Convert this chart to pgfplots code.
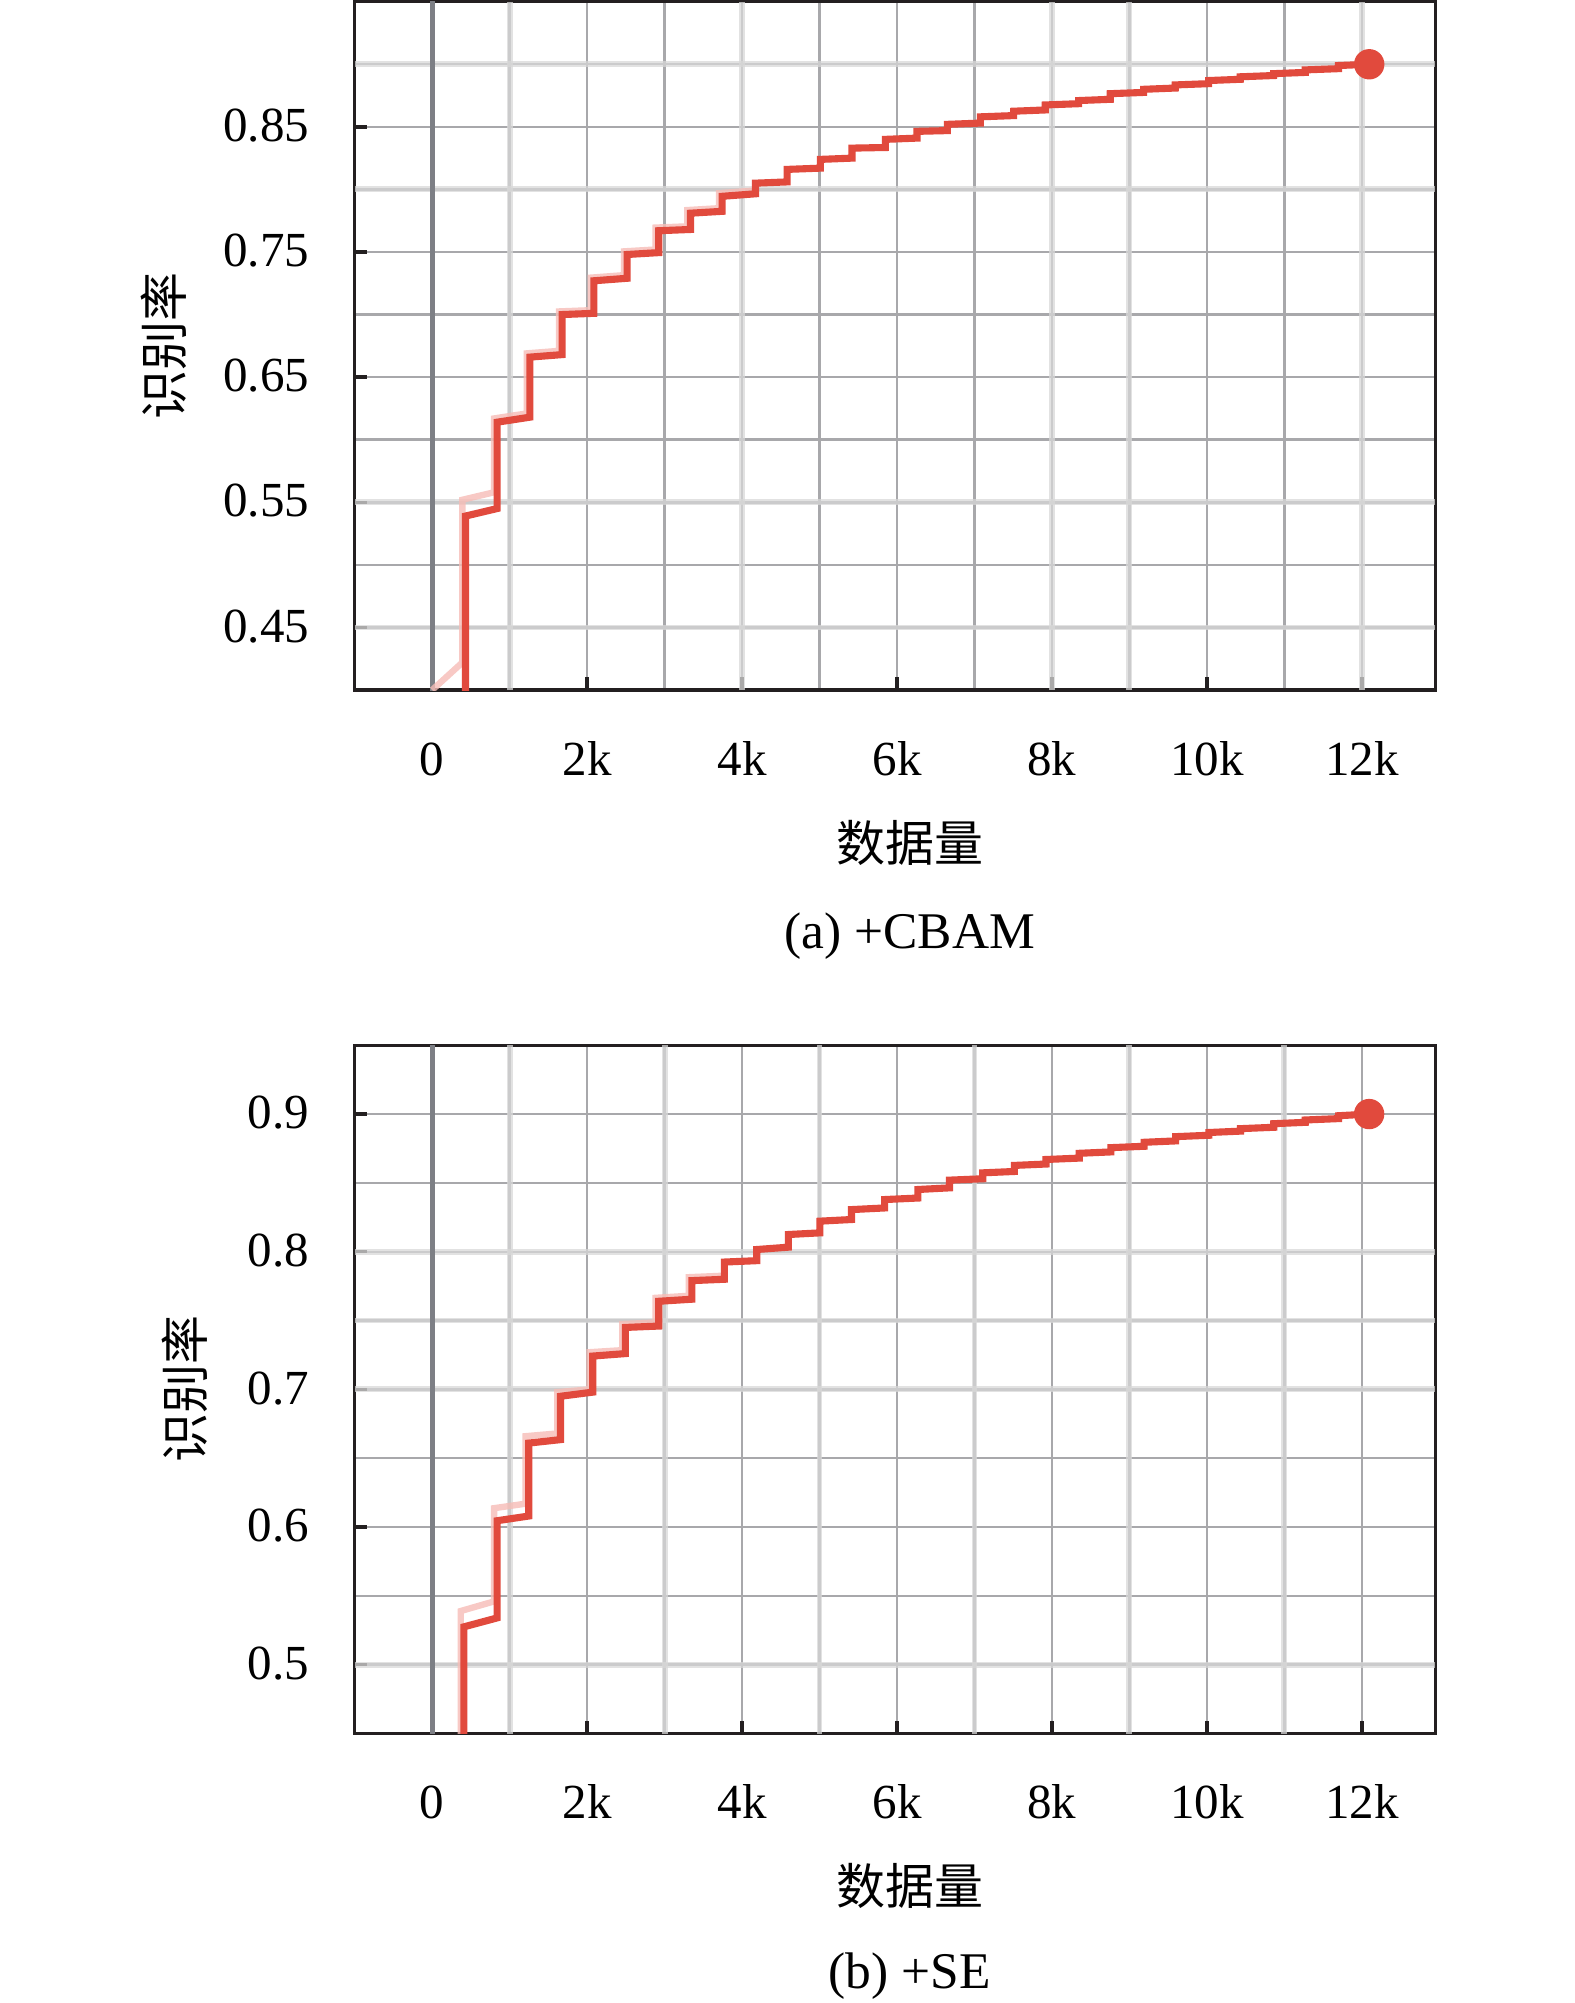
\documentclass[border=0pt]{standalone}
\usepackage{fontspec}
\setmainfont{Liberation Serif}
\newfontfamily\cjk{Noto Sans CJK SC}
\usepackage{pgfplots}
\pgfplotsset{compat=1.18}
\definecolor{myred}{RGB}{225,74,61}
\definecolor{ghost}{RGB}{246,188,182}
\definecolor{gdark}{RGB}{168,168,171}
\definecolor{glight}{RGB}{216,216,216}
\definecolor{zline}{RGB}{125,127,133}
\definecolor{framec}{RGB}{35,31,32}

\pgfplotsset{
  base/.style={
    width=220.6pt, height=140.5pt, scale only axis,
    xmin=-1000, xmax=12950,
    axis line style={framec, line width=0.7pt},
    xtick={0,2000,4000,6000,8000,10000,12000},
    xticklabels={0,2k,4k,6k,8k,10k,12k},
    minor xtick={1000,3000,5000,7000,9000,11000},
    grid=both,
    major grid style={gdark, line width=0.5pt},
    minor grid style={gdark, line width=0.5pt},
    tick align=inside, xtick pos=left, ytick pos=left,
    major tick length=2.6pt, minor tick length=0pt,
    every tick/.style={framec, line width=0.7pt},
    scaled x ticks=false, scaled y ticks=false,
    xticklabel style={anchor=base, yshift=-17.4pt, inner sep=0pt},
    yticklabel style={anchor=base east, xshift=-9.1pt, yshift=-3.0pt, inner sep=0pt},
    extra x tick labels={}, extra y tick labels={},
    extra x tick style={grid=major, major grid style={glight, line width=1.2pt, opacity=0.75}, major tick length=0pt},
    extra y tick style={grid=major, major grid style={glight, line width=1.2pt, opacity=0.75}, major tick length=0pt},
    clip mode=individual,
    xlabel={\cjk 数据量},
    ylabel={\cjk 识别率},
    every axis title shift=0pt,
    title style={anchor=base, font=\fontsize{10.5}{12}\selectfont},
  },
  redline/.style={myred, line width=1.45pt, line join=miter},
  ghostline/.style={ghost, line width=1.3pt, opacity=0.8},
}

\begin{document}
\begin{tikzpicture}
% ---------- (a) +CBAM ----------
\begin{axis}[base, name=a, at={(0pt,0pt)}, anchor=north west,
  ymin=0.40, ymax=0.95,
  ytick={0.45,0.55,0.65,0.75,0.85},
  yticklabels={0.45,0.55,0.65,0.75,0.85},
  minor ytick={0.50,0.60,0.70,0.80,0.90},
  extra x ticks={1000,4000,8000,9000,12000},
  extra y ticks={0.45,0.55,0.80,0.90},
  xlabel style={at={(axis description cs:0.5136,-0.249)}, anchor=base},
  ylabel style={at={(axis description cs:-0.1768,0.5)}, anchor=center},
  title={(a) +CBAM},
  title style={at={(axis description cs:0.5136,-0.3758)}},
]
\addplot[zline, line width=1.05pt, forget plot] coordinates {(0,0.30) (0,1.0)};
\addplot[ghostline] coordinates {
(0,0.400) (390,0.422) (390,0.552) (799,0.558) (799,0.617) (1221,0.621)
(1221,0.669) (1637,0.671) (1637,0.7025) (2047,0.7035) (2047,0.7295) (2476,0.7315)
(2476,0.7505) (2885,0.752) (2885,0.7695) (3294,0.7705) (3294,0.7835) (3702,0.785)
(3702,0.797) (4133,0.799)
};
\addplot[redline] coordinates {
(430,0.30)
(430,0.539) (839,0.545)
(839,0.614) (1261,0.618)
(1261,0.666) (1677,0.668)
(1677,0.700) (2087,0.701)
(2087,0.727) (2516,0.729)
(2516,0.748) (2925,0.7495)
(2925,0.767) (3334,0.768)
(3334,0.781) (3742,0.7825)
(3742,0.7945) (4173,0.7965)
(4173,0.805) (4581,0.806)
(4581,0.816) (5011,0.817)
(5011,0.824) (5419,0.825)
(5419,0.833) (5850,0.8335)
(5850,0.840) (6258,0.841)
(6258,0.8464) (6650,0.847)
(6650,0.852) (7076,0.853)
(7076,0.858) (7506,0.859)
(7506,0.8625) (7914,0.8635)
(7914,0.8675) (8344,0.8685)
(8344,0.871) (8753,0.872)
(8753,0.8765) (9183,0.8775)
(9183,0.880) (9592,0.881)
(9592,0.8835) (10022,0.8845)
(10022,0.887) (10431,0.888)
(10431,0.890) (10861,0.891)
(10861,0.8925) (11270,0.8935)
(11270,0.8955) (11699,0.8965)
(11699,0.899) (12095,0.900)
};
\addplot[only marks, mark=*, mark size=2.9pt, color=myred] coordinates {(12095,0.900)};
\end{axis}

% ---------- (b) +SE ----------
\begin{axis}[base, name=b, at={(0pt,-213pt)}, anchor=north west,
  ymin=0.45, ymax=0.95,
  ytick={0.5,0.6,0.7,0.8,0.9},
  yticklabels={0.5,0.6,0.7,0.8,0.9},
  minor ytick={0.55,0.65,0.75,0.85},
  extra x ticks={1000,3000,5000,7000,9000,11000},
  extra y ticks={0.50,0.70,0.75,0.80},
  xlabel style={at={(axis description cs:0.5136,-0.248)}, anchor=base},
  ylabel style={at={(axis description cs:-0.1568,0.5)}, anchor=center},
  title={(b) +SE},
  title style={at={(axis description cs:0.5136,-0.371)}},
]
\addplot[zline, line width=1.05pt, forget plot] coordinates {(0,0.30) (0,1.0)};
\addplot[ghostline] coordinates {
(369,0.40) (369,0.539) (799,0.546) (799,0.6137) (1207,0.617) (1207,0.666)
(1616,0.668) (1616,0.698) (2033,0.700) (2033,0.727) (2454,0.7285) (2454,0.7475)
(2884,0.7485) (2884,0.7665) (3313,0.768) (3313,0.7815) (3732,0.7825)
};
\addplot[redline] coordinates {
(409,0.40)
(409,0.5275) (839,0.534)
(839,0.6046) (1247,0.608)
(1247,0.661) (1656,0.6635)
(1656,0.695) (2073,0.698)
(2073,0.7242) (2494,0.726)
(2494,0.745) (2924,0.746)
(2924,0.764) (3353,0.7655)
(3353,0.779) (3772,0.780)
(3772,0.7925) (4189,0.7935)
(4189,0.8016) (4597,0.8033)
(4597,0.8125) (5004,0.8137)
(5004,0.8222) (5412,0.8234)
(5412,0.8306) (5841,0.8318)
(5841,0.8379) (6270,0.839)
(6270,0.8452) (6678,0.8464)
(6678,0.852) (7107,0.853)
(7107,0.8573) (7515,0.8583)
(7515,0.8627) (7923,0.8637)
(7923,0.867) (8352,0.868)
(8352,0.8715) (8760,0.8725)
(8760,0.8756) (9189,0.8766)
(9189,0.8795) (9597,0.8805)
(9597,0.8836) (10026,0.8846)
(10026,0.8866) (10433,0.8876)
(10433,0.8894) (10863,0.8904)
(10863,0.893) (11270,0.894)
(11270,0.8957) (11700,0.8967)
(11700,0.8988) (12094,0.900)
};
\addplot[only marks, mark=*, mark size=2.9pt, color=myred] coordinates {(12094,0.900)};
\end{axis}

\pgfresetboundingbox
\path[use as bounding box] (-72.4pt,0.35pt) rectangle (248.9pt,-408.5pt);
\end{tikzpicture}
\end{document}
